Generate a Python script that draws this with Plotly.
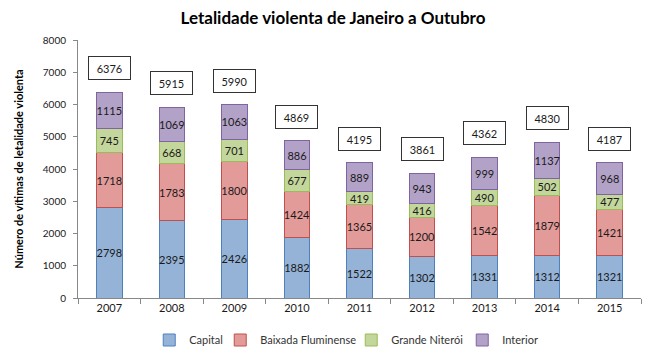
import plotly.graph_objects as go

years = ["2007", "2008", "2009", "2010", "2011", "2012", "2013", "2014", "2015"]
capital = [2798, 2395, 2426, 1882, 1522, 1302, 1331, 1312, 1321]
baixada = [1718, 1783, 1800, 1424, 1365, 1200, 1542, 1879, 1421]
niteroi = [745, 668, 701, 677, 419, 416, 490, 502, 477]
interior = [1115, 1069, 1063, 886, 889, 943, 999, 1137, 968]
totals = [6376, 5915, 5990, 4869, 4195, 3861, 4362, 4830, 4187]

series = [
    ("Capital", capital, "#95B3D7", "#4F81BD", 26),
    ("Baixada Fluminense", baixada, "#E39B99", "#C0504D", 86),
    ("Grande Niterói", niteroi, "#C3D69B", "#9BBB59", 66),
    ("Interior", interior, "#B3A2C7", "#8064A2", 40),
]

FONT = "Lato, 'Open Sans', sans-serif"

fig = go.Figure()
for name, vals, fill, line, lw in series:
    fig.add_trace(go.Bar(
        x=years, y=vals, name=name,
        marker=dict(color=fill, line=dict(color=line, width=1)),
        text=[str(v) for v in vals], textposition="inside",
        insidetextanchor="middle", textangle=0,
        textfont=dict(family=FONT, size=11, color="#1a1a1a"),
        width=0.41, legendwidth=lw,
    ))

for i, t in enumerate(totals):
    fig.add_annotation(
        x=i, y=t, text=str(t), showarrow=False, yshift=24,
        bordercolor="#333333", borderwidth=1, bgcolor="white",
        width=39, height=20,
        font=dict(family=FONT, size=11, color="#1a1a1a"),
    )

fig.update_layout(
    barmode="stack",
    width=650, height=359,
    margin=dict(l=70, r=17, t=32, b=59),
    plot_bgcolor="white", paper_bgcolor="white",
    uniformtext=dict(minsize=11, mode="show"),
    title=dict(text="<b>Letalidade violenta de Janeiro a Outubro</b>",
               x=0.5, xanchor="center", y=0.972, yanchor="middle",
               font=dict(family=FONT, size=17, color="black")),
    legend=dict(orientation="h",
                x=0.48, xanchor="center", y=-0.219, yanchor="bottom",
                font=dict(family=FONT, size=11, color="#333333"),
                itemwidth=30, traceorder="normal"),
    showlegend=True,
)
fig.update_xaxes(
    type="category", range=[-0.5, 8.5],
    showline=True, linecolor="#888888", linewidth=1,
    ticks="outside", tickson="boundaries", ticklen=5, tickcolor="#888888",
    tickfont=dict(family=FONT, size=11, color="#1a1a1a"),
    showgrid=False,
)
fig.update_yaxes(
    range=[0, 8000], dtick=1000, showline=True, linecolor="#888888", linewidth=1,
    ticks="outside", ticklen=4, tickcolor="#888888", showgrid=False, zeroline=False,
    ticklabelstandoff=5,
    tickfont=dict(family=FONT, size=10, color="#1a1a1a"),
    title=dict(text="<b>Número de vítimas de letalidade violenta</b>",
               font=dict(family=FONT, size=11, color="black"), standoff=16),
)

fig.write_html("out.html")
